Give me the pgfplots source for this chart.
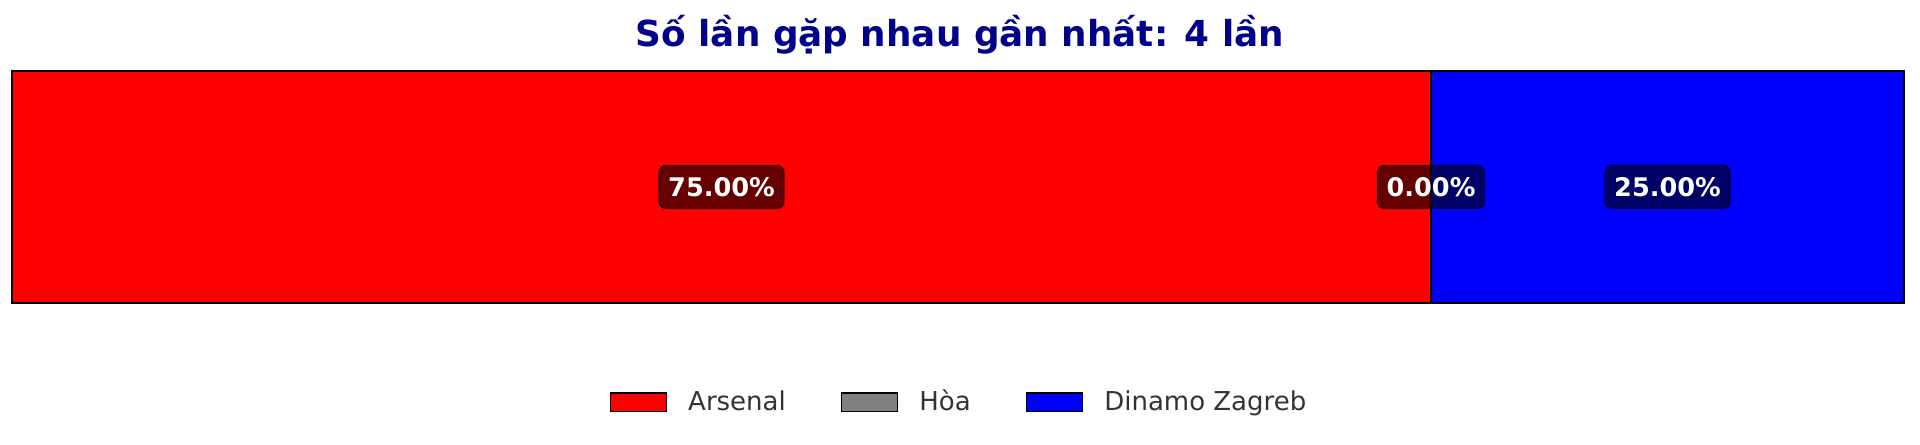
\documentclass[border=0pt]{standalone}
\usepackage{fontspec}
\setmainfont{DejaVu Sans}
\usepackage{pgfplots}
\pgfplotsset{compat=1.18}
\definecolor{titleblue}{RGB}{0,0,139}
\definecolor{legtext}{RGB}{51,51,51}
\definecolor{hoagray}{RGB}{128,128,128}
\tikzset{pct/.style={fill=black, fill opacity=0.6, draw=black, draw opacity=0.7,
    text opacity=1, text=white, rounded corners=3.5pt, line width=0.6pt,
    font=\bfseries\fontsize{12.8}{15}\selectfont,
    inner xsep=4.6pt, minimum height=21.5pt}}

\begin{document}
\begin{tikzpicture}
  \useasboundingbox (0,0) rectangle (960pt,222pt);

  % title
  \node[font=\bfseries\fontsize{17.9}{21}\selectfont, text=titleblue]
    at (480pt,204.4pt) {Số lần gặp nhau gần nhất: 4 lần};

  \begin{axis}[
      at={(6pt,70.5pt)}, anchor=south west,
      scale only axis, width=946pt, height=116pt,
      xbar stacked, bar width=116pt,
      xmin=0, xmax=100, ymin=-0.5, ymax=0.5,
      axis lines=none, ticks=none, clip=false,
      legend columns=-1,
      legend image code/.code={\draw[#1] (0pt,-4.6pt) rectangle (28pt,4.6pt);},
      legend style={
        at={(0.5,-0.427)}, anchor=center, draw=none, fill=none,
        font=\fontsize{13}{15}\selectfont, text=legtext,
        nodes={inner xsep=0pt},
        /tikz/every odd column/.append style={column sep=10.5pt},
        /tikz/every even column/.append style={column sep=27.5pt},
      },
    ]
    \addplot[fill=red, draw=black, line width=0.75pt] coordinates {(75,0)};
    \addplot[fill=hoagray, draw=black, line width=0.75pt] coordinates {(0,0)};
    \addplot[fill=blue, draw=black, line width=0.75pt] coordinates {(25,0)};
    \legend{Arsenal, Hòa, Dinamo Zagreb}

    % label anchors at the middle of each segment
    \coordinate (pa) at (axis cs:37.5,0);
    \coordinate (pb) at (axis cs:75,0);
    \coordinate (pc) at (axis cs:87.5,0);
  \end{axis}
  \node[pct] at (pa) {75.00\%};
  \node[pct] at (pb) {0.00\%};
  \node[pct] at (pc) {25.00\%};
\end{tikzpicture}
\end{document}
